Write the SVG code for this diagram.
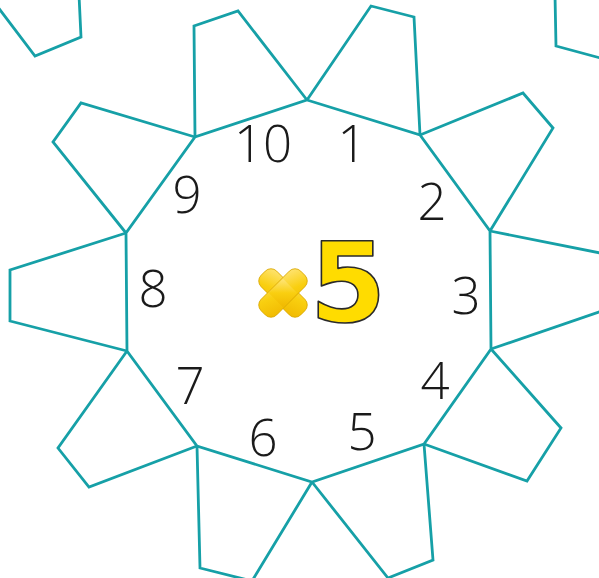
<svg xmlns="http://www.w3.org/2000/svg" width="599" height="578" viewBox="0 0 599 578">
<style>
.p{fill:none;stroke:#16a0a7;stroke-width:2.8;stroke-linejoin:miter}
.n{font-family:"Open Sans","Liberation Sans",Arial,sans-serif;font-weight:300;font-size:51px;fill:#1a1a1a;text-anchor:middle}
</style>
<defs>
<linearGradient id="g" x1="0" y1="0" x2="1" y2="1">
<stop offset="0" stop-color="#ffe57a"/>
<stop offset="0.5" stop-color="#f9cf10"/>
<stop offset="1" stop-color="#f0b800"/>
</linearGradient>
</defs>
<rect width="599" height="578" fill="#fff"/>
<g id="connectors">
<polygon class="p" points="307,100 420,135 490,231 491,349 424,444 312,482 197,446 127,351 126,233 195,137"/>
</g>
<g id="petal1"><polyline class="p" points="307,100 371,6 414,17 420,135"/></g>
<g id="petal2"><polyline class="p" points="420,135 523,93 553,128 490,231"/></g>
<g id="petal3"><polyline class="p" points="490,231 640,261"/><polyline class="p" points="491,349 640,298"/></g>
<g id="petal4"><polyline class="p" points="491,349 561,428 527,481 424,444"/></g>
<g id="petal5"><polyline class="p" points="424,444 433,560 388,578 312,482"/></g>
<g id="petal6"><polyline class="p" points="312,482 252,581 200,568 197,446"/></g>
<g id="petal7"><polyline class="p" points="127,351 58,448 89,487 197,446"/></g>
<g id="petal8"><polyline class="p" points="126,233 10,270 10,321 127,351"/></g>
<g id="petal9"><polyline class="p" points="126,233 53,142 81,103 195,137"/></g>
<g id="petal10"><polyline class="p" points="195,137 194,26 238,11 307,100"/></g>
<g id="corner-tl"><polyline class="p" points="-9,-2 35,56 81,37 79,-5"/></g>
<g id="corner-tr"><polyline class="p" points="555,-5 556,46 608,60"/></g>
<g id="numbers">
<text class="n" x="263" y="162">10</text>
<text class="n" x="352" y="162">1</text>
<text class="n" x="432" y="220">2</text>
<text class="n" x="466" y="314">3</text>
<text class="n" x="435" y="399">4</text>
<text class="n" x="362" y="450">5</text>
<text class="n" x="263" y="456">6</text>
<text class="n" x="190" y="404">7</text>
<text class="n" x="153" y="307">8</text>
<text class="n" x="187" y="213">9</text>
</g>
<g id="times5">
<g transform="translate(283,293) rotate(45)">
<rect x="-28" y="-11" width="56" height="22" rx="8" fill="url(#g)" stroke="#d9a600" stroke-width="0.8"/>
<rect x="-11" y="-28" width="22" height="56" rx="8" fill="url(#g)" stroke="#d9a600" stroke-width="0.8"/>
<rect x="-10" y="-10" width="20" height="20" fill="url(#g)"/>
</g>
<text x="348" y="321" font-family="'DejaVu Sans',sans-serif" font-weight="bold" font-size="110" text-anchor="middle" fill="#ffdc00" stroke="#2a2a2a" stroke-width="1.6" stroke-linejoin="round">5</text>
</g>
</svg>
